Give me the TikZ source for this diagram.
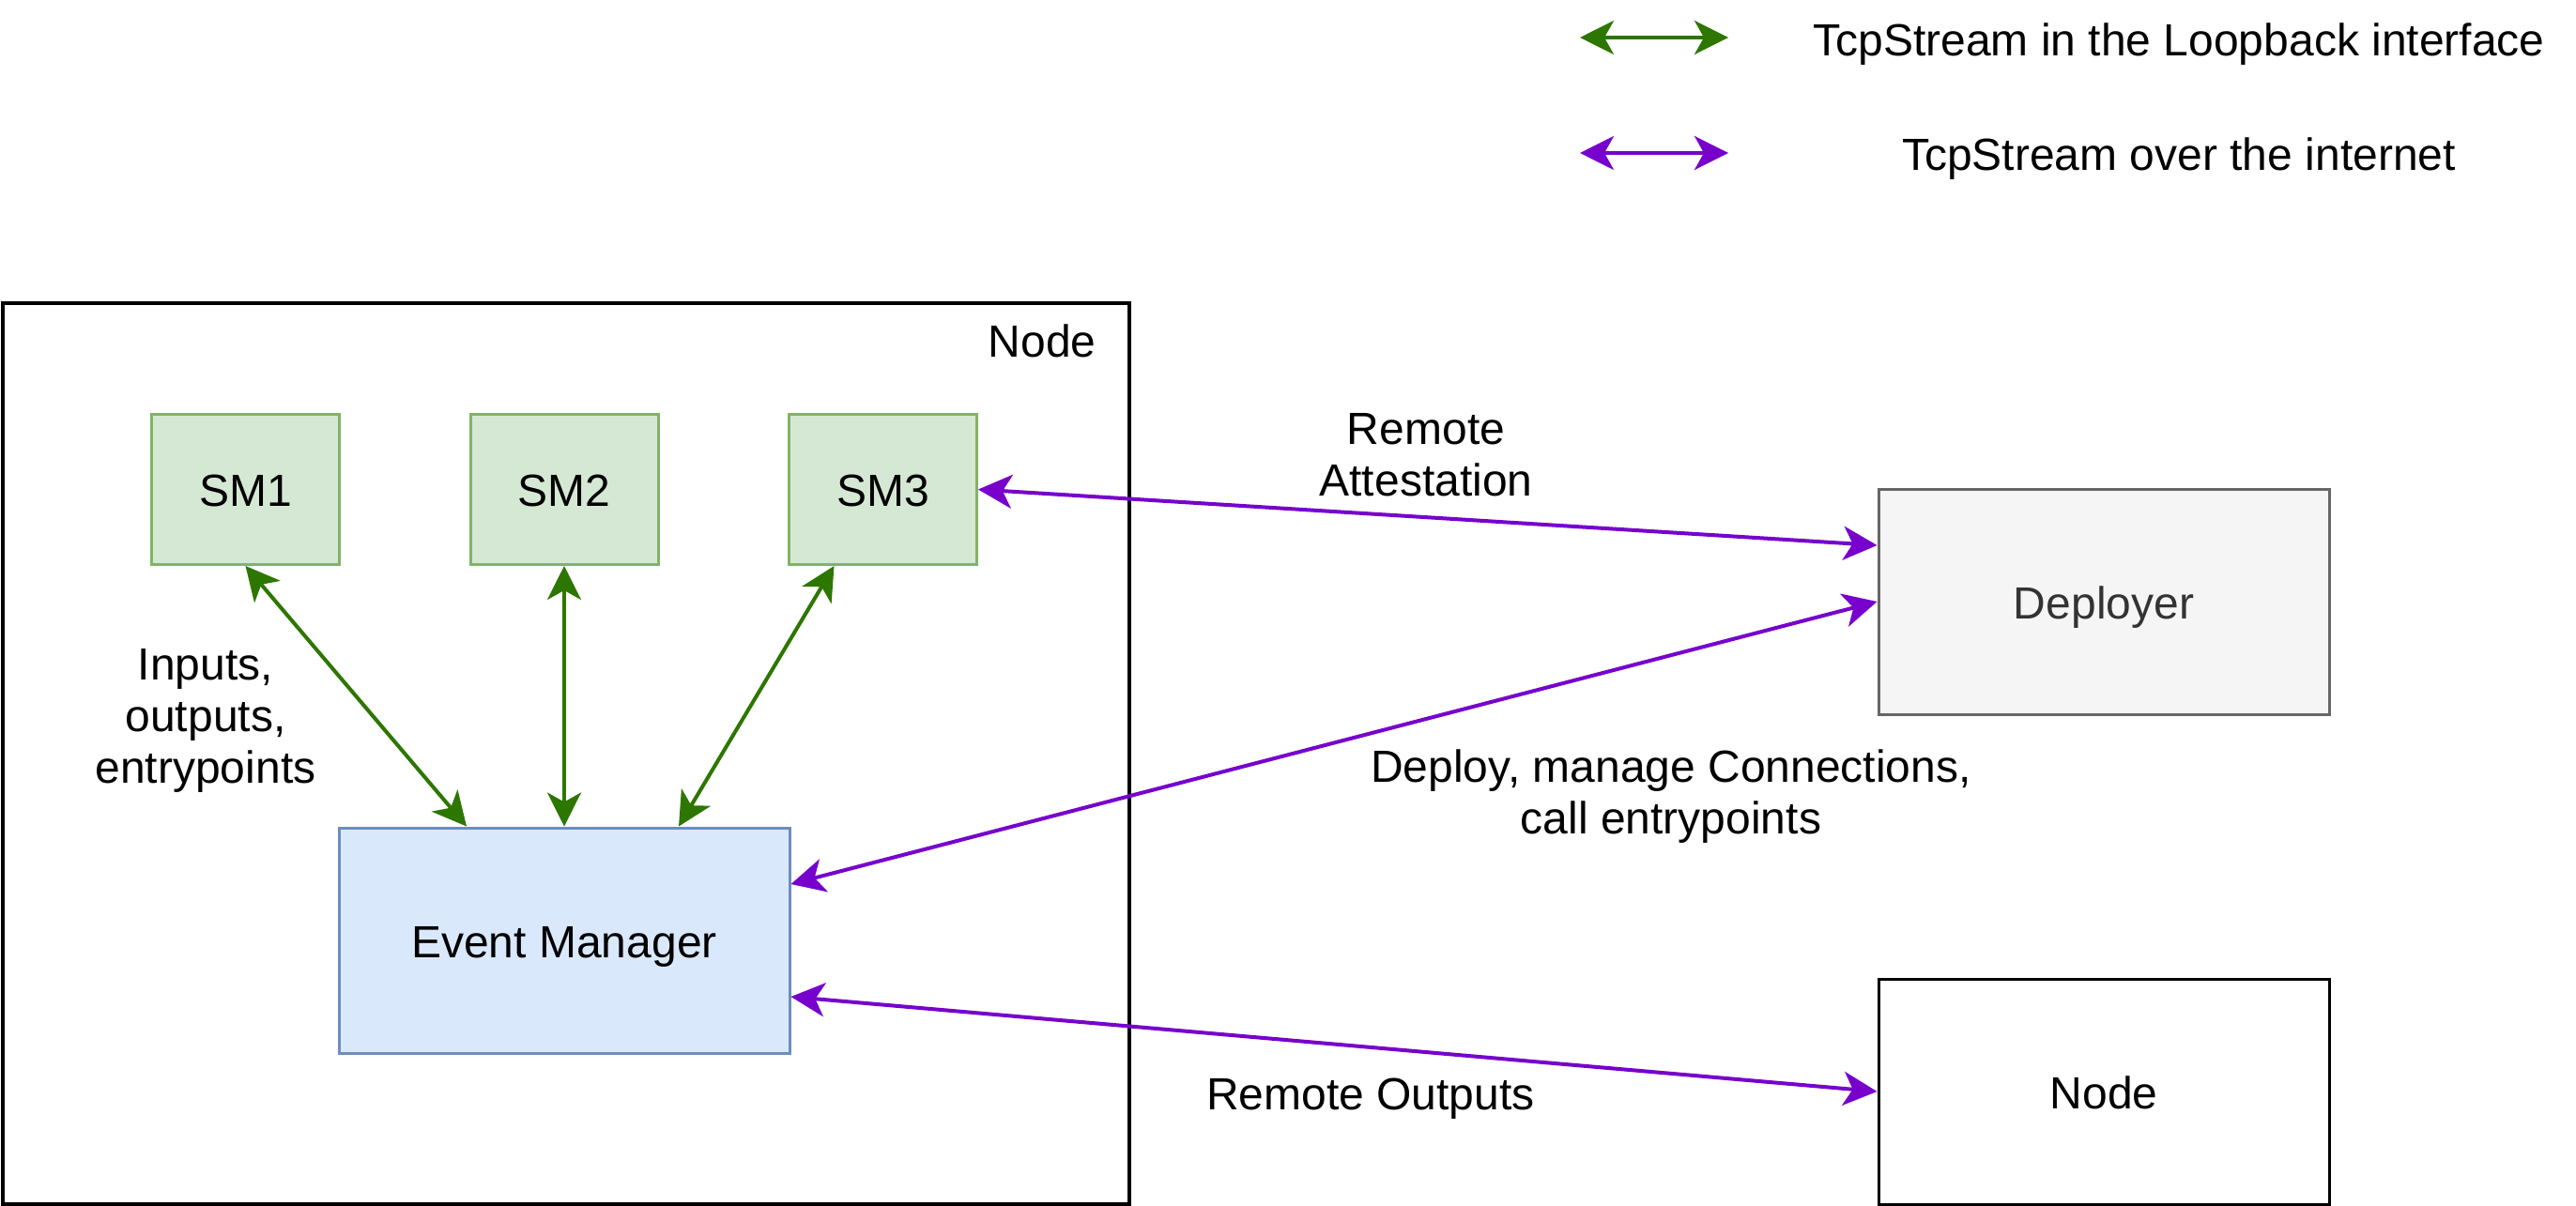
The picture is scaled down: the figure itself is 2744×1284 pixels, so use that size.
\documentclass[tikz,border=0pt]{standalone}
\usepackage{fontspec}
\setmainfont{Liberation Sans}
\usepackage{xcolor}
\usepackage{tikz}
\usetikzlibrary{arrows.meta,positioning}
\definecolor{smzelena}{HTML}{D5E8D4}
\definecolor{smivica}{HTML}{82B366}
\definecolor{emplava}{HTML}{DAE8FC}
\definecolor{emivica}{HTML}{6C8EBF}
\definecolor{depsiva}{HTML}{F5F5F5}
\definecolor{depivica}{HTML}{666666}
\definecolor{deptekst}{HTML}{333333}
\definecolor{vezazelena}{HTML}{2D7600}
\definecolor{vezaljub}{HTML}{7700CC}

\begin{document}
\begin{tikzpicture}[
    x=0.5pt, y=-0.5pt,
    every node/.style={font=\fontsize{24}{27.5}\selectfont},
    blok/.style={rectangle,draw,line width=1.5pt,inner sep=0pt,
                 minimum width=240pt,minimum height=120pt,
                 text height=18.2pt,text depth=0pt},
    bloksm/.style={blok,minimum width=100pt,minimum height=80pt,
                   fill=smzelena,draw=smivica},
    blokem/.style={blok,fill=emplava,draw=emivica},
    blokdep/.style={blok,fill=depsiva,draw=depivica,text=deptekst},
    tekst/.style={inner sep=0pt,text height=18.2pt,text depth=0pt},
    tekstvise/.style={align=center,inner sep=0pt},
    strelica/.style={{Stealth[length=18pt,width=18pt,inset=5pt]}-{Stealth[length=18pt,width=18pt,inset=5pt]},
                     line width=2pt},
    strelicaz/.style={strelica,draw=vezazelena,fill=vezazelena},
    strelicap/.style={strelica,draw=vezaljub,fill=vezaljub}
]
\useasboundingbox (0,0) rectangle (2744,1284);

% legenda
\coordinate (lz1) at (1683,40);
\coordinate (lz2) at (1841,40);
\coordinate (lp1) at (1683,163);
\coordinate (lp2) at (1841,163);
\draw[strelicaz] (lz1) -- (lz2);
\draw[strelicap] (lp1) -- (lp2);
\node[tekst] (legz) at (2321,41) {TcpStream in the Loopback interface};
\node[tekst] (legp) at (2321,163) {TcpStream over the internet};

% cvor sa modulima
\node[draw,line width=2pt,minimum width=600pt,minimum height=480pt,inner sep=0pt] (cvor) at (603,802.5) {};
\node[anchor=base east,inner sep=0pt] (cvorlbl) at (1168,380) {Node};
\node[bloksm] (sm1) at (261.5,521.5) {SM1};
\node[bloksm] (sm2) at (601,521.5) {SM2};
\node[bloksm] (sm3) at (940.5,521.5) {SM3};
\node[blokem] (em) at (601,1002) {Event Manager};

% spoljni cvorovi
\node[blokdep] (dep) at (2241,641) {Deployer};
\node[blok] (cvor2) at (2241,1163) {Node};

\draw[strelicaz] (sm1.south) -- ([xshift=-52pt]em.north);
\draw[strelicaz] (sm2.south) -- (em.north);
\draw[strelicaz] ([xshift=-26pt]sm3.south) -- ([xshift=61pt]em.north);
\draw[strelicap] (sm3.east) -- ([yshift=30pt]dep.west);
\draw[strelicap] ([yshift=30pt]em.east) -- (dep.west);
\draw[strelicap] ([yshift=-30pt]em.east) -- (cvor2.west);

\node[tekstvise] (lblin) at (219,768) {Inputs,\\outputs,\\entrypoints};
\node[tekstvise] (lblra) at (1519,485) {Remote\\Attestation};
\node[tekstvise] (lbldep) at (1780,849) {Deploy, manage Connections,\\call entrypoints};
\node[tekst] (lblro) at (1460,1164) {Remote Outputs};
\end{tikzpicture}
\end{document}
